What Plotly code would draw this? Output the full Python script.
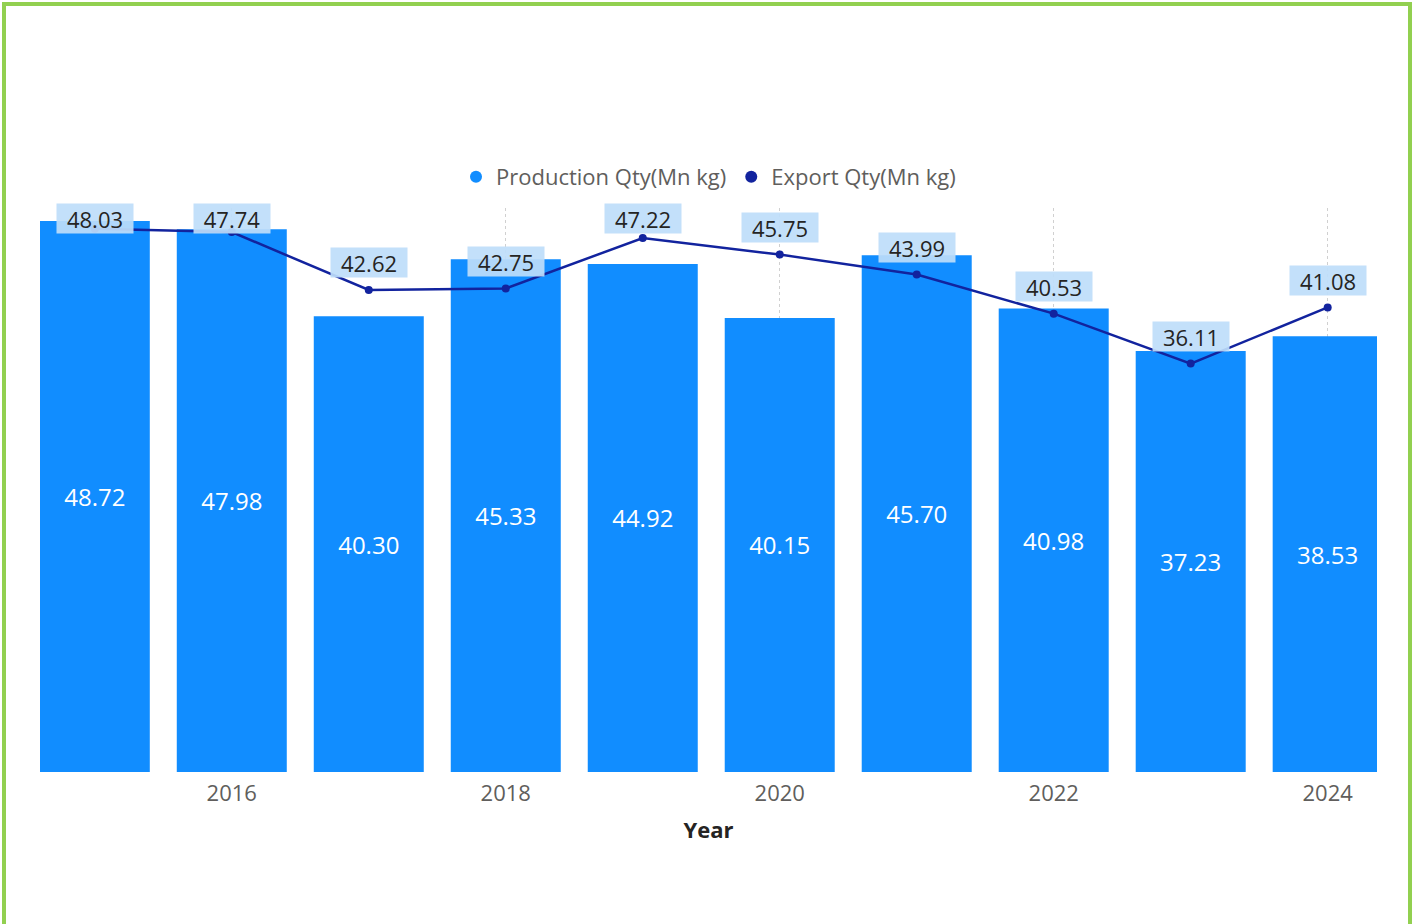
import plotly.graph_objects as go

years = [2015, 2016, 2017, 2018, 2019, 2020, 2021, 2022, 2023, 2024]
production = [48.72, 47.98, 40.30, 45.33, 44.92, 40.15, 45.70, 40.98, 37.23, 38.53]
export = [48.03, 47.74, 42.62, 42.75, 47.22, 45.75, 43.99, 40.53, 36.11, 41.08]
tick_years = [2016, 2018, 2020, 2022, 2024]

BAR_COLOR = "#118DFF"
LINE_COLOR = "#12239E"
FONT = "Open Sans"
W, H = 1415, 924
ML, MR, MT, MB = 40, 38, 208, 152
PW, PH = W - ML - MR, H - MT - MB
Y_MAX = 49.87
X_RANGE = [2014.6, 2024.36]

fig = go.Figure()
fig.add_trace(go.Bar(
    x=years, y=production, name="Production Qty(Mn kg)",
    marker=dict(color=BAR_COLOR, line=dict(width=0)),
    text=[f"{v:.2f}" for v in production], textposition="inside",
    insidetextanchor="middle", textangle=0,
    textfont=dict(color="white", size=24, family=FONT),
    showlegend=False,
))
fig.add_trace(go.Scatter(
    x=years, y=export, name="Export Qty(Mn kg)", mode="lines+markers",
    line=dict(color=LINE_COLOR, width=2.5),
    marker=dict(color=LINE_COLOR, size=8),
    showlegend=False,
))
# legend entries with circle symbols
fig.add_trace(go.Scatter(x=[None], y=[None], mode="markers", name="Production Qty(Mn kg)",
                         marker=dict(color=BAR_COLOR, size=12, symbol="circle")))
fig.add_trace(go.Scatter(x=[None], y=[None], mode="markers", name="Export Qty(Mn kg)",
                         marker=dict(color=LINE_COLOR, size=12, symbol="circle")))

# data labels for the line
px_per_unit = PH / Y_MAX
offset = 27 / px_per_unit
cap = Y_MAX - 10 / px_per_unit
for x, v in zip(years, export):
    fig.add_annotation(
        x=x, y=min(v + offset, cap), xref="x", yref="y",
        text=f"{v:.2f}", showarrow=False, yanchor="middle",
        font=dict(size=22, color="#252423", family=FONT),
        bgcolor="rgba(190,221,250,0.92)", width=74, height=27, borderpad=1,
    )

# green frame around the page
def fx(p):
    return (p - ML) / PW

def fy(p):
    return 1 - (p - MT) / PH

fig.add_shape(type="rect", xref="paper", yref="paper",
              x0=fx(4), x1=fx(1410), y0=fy(940), y1=fy(4),
              line=dict(color="#92D050", width=4), fillcolor="rgba(0,0,0,0)", layer="above")

fig.update_layout(
    width=W, height=H,
    margin=dict(l=ML, r=MR, t=MT, b=MB),
    plot_bgcolor="white", paper_bgcolor="white",
    bargap=0.197,
    font=dict(family=FONT, color="#605E5C"),
    legend=dict(orientation="h", x=0.5, xanchor="center", y=fy(177), yanchor="middle",
                font=dict(size=22, color="#605E5C", family=FONT),
                itemwidth=30, tracegroupgap=0, bgcolor="rgba(0,0,0,0)"),
    xaxis=dict(range=X_RANGE, tickvals=tick_years, ticktext=[str(t) for t in tick_years],
               showgrid=True, griddash="dot", gridcolor="#D0D0D0", gridwidth=1,
               zeroline=False, showline=False, ticks="", ticklabelstandoff=6,
               tickfont=dict(size=22, color="#605E5C", family=FONT),
               title=dict(text="<b>Year</b>", font=dict(size=22, color="#252423", family=FONT),
                          standoff=16)),
    yaxis=dict(range=[0, Y_MAX], visible=False, showgrid=False, zeroline=False),
)

fig.write_html("out.html", config={"displayModeBar": False},
               post_script="document.body.style.margin='0px';document.body.style.overflow='hidden';")
